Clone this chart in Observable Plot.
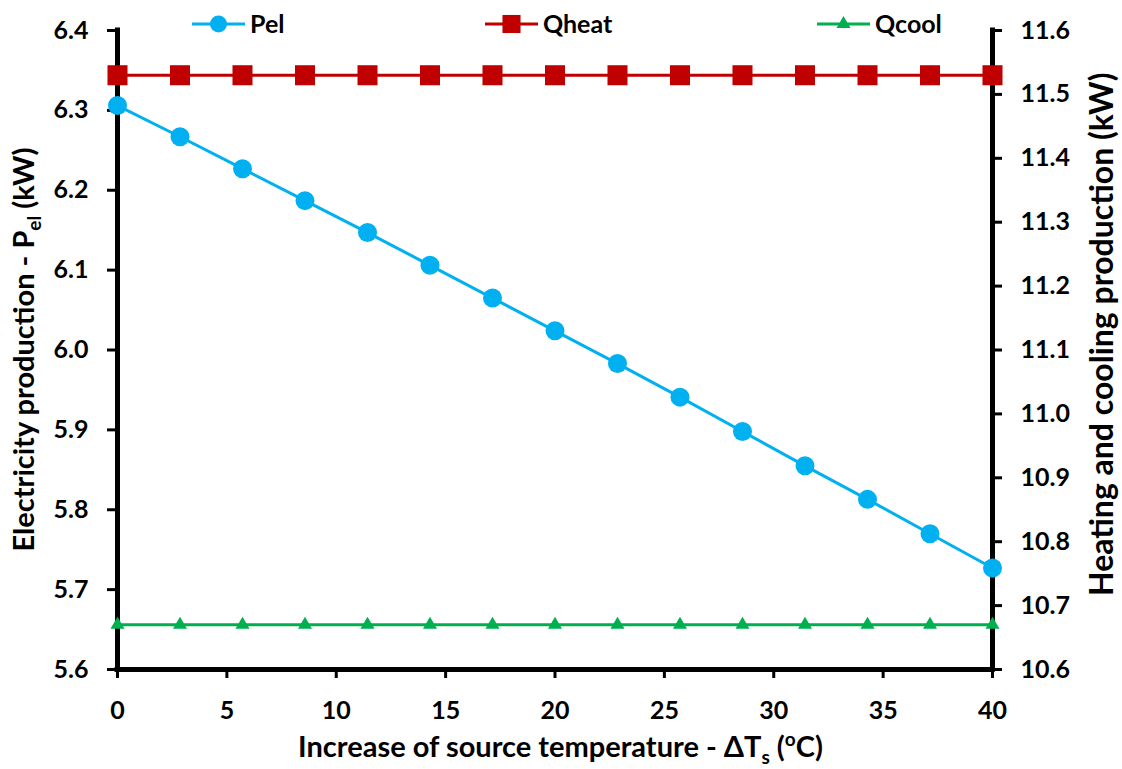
<!DOCTYPE html>
<html><head><meta charset="utf-8">
<script src="https://cdn.jsdelivr.net/npm/d3@7"></script>
<script src="https://cdn.jsdelivr.net/npm/@observablehq/plot@0.6"></script>
<style>
body{margin:0;background:#fff;}
#chart svg{font-family:Lato,sans-serif;font-weight:bold;}
</style></head><body><div id="chart"></div>
<script>
// ---- data ----
const deltaT = [0, 2.857, 5.714, 8.571, 11.429, 14.286, 17.143, 20, 22.857, 25.714, 28.571, 31.429, 34.286, 37.143, 40];
const pel    = [6.306, 6.267, 6.227, 6.187, 6.147, 6.106, 6.065, 6.024, 5.983, 5.941, 5.898, 5.855, 5.813, 5.770, 5.727];
const qheat  = [11.53, 11.53, 11.53, 11.53, 11.53, 11.53, 11.53, 11.53, 11.53, 11.53, 11.53, 11.53, 11.53, 11.53, 11.53];
const qcool  = [10.67, 10.67, 10.67, 10.67, 10.67, 10.67, 10.67, 10.67, 10.67, 10.67, 10.67, 10.67, 10.67, 10.67, 10.67];
const xTicks = [0, 5, 10, 15, 20, 25, 30, 35, 40];
const leftTicks = [5.6, 5.7, 5.8, 5.9, 6.0, 6.1, 6.2, 6.3, 6.4];
const rightTicks = [10.6, 10.7, 10.8, 10.9, 11.0, 11.1, 11.2, 11.3, 11.4, 11.5, 11.6];
const seriesNames = ["Pel", "Qheat", "Qcool"];
const seriesColors = ["#00B0F0", "#C00000", "#00B050"];

// ---- layout ----
const W = 1122, H = 769, mL = 117, mR = 130, mT = 30, mB = 100;
const leftDomain = [leftTicks[0], leftTicks[leftTicks.length - 1]];
const rightDomain = [rightTicks[0], rightTicks[rightTicks.length - 1]];
const k = (leftDomain[1] - leftDomain[0]) / (rightDomain[1] - rightDomain[0]);
const toLeft = v => leftDomain[0] + (v - rightDomain[0]) * k;
const fromLeft = v => rightDomain[0] + (v - leftDomain[0]) / k;

const rows = deltaT.map((x, i) => ({x, pel: pel[i], qheat: toLeft(qheat[i]), qcool: toLeft(qcool[i])}));

const plot = Plot.plot({
  width: W, height: H,
  marginLeft: mL, marginRight: mR, marginTop: mT, marginBottom: mB,
  style: {fontFamily: "Lato, sans-serif", fontWeight: "bold", fontSize: "25px", color: "#000", background: "#fff", overflow: "visible"},
  x: {domain: [xTicks[0], xTicks[xTicks.length - 1]]},
  y: {domain: leftDomain},
  marks: [
    Plot.ruleX([xTicks[0], xTicks[xTicks.length - 1]], {stroke: "#000", strokeWidth: 5, strokeLinecap: "square"}),
    Plot.ruleY([leftDomain[0]], {stroke: "#000", strokeWidth: 5, strokeLinecap: "square"}),
    Plot.axisX(xTicks, {anchor: "bottom", tickSize: 9, tickPadding: 23, strokeWidth: 3, label: null, tickFormat: d => String(d), fontSize: 25}),
    Plot.axisY(leftTicks, {anchor: "left", tickSize: 10, tickPadding: 19, strokeWidth: 3, label: null, tickFormat: d3.format(".1f"), fontSize: 25}),
    Plot.axisY(rightTicks.map(toLeft), {anchor: "right", tickSize: 9, tickPadding: 19, strokeWidth: 3, label: null, tickFormat: v => fromLeft(v).toFixed(1), fontSize: 25}),
    Plot.line(rows, {x: "x", y: "pel", stroke: seriesColors[0], strokeWidth: 3}),
    Plot.dot(rows, {x: "x", y: "pel", r: 9.5, fill: seriesColors[0], symbol: "circle"}),
    Plot.line(rows, {x: "x", y: "qheat", stroke: seriesColors[1], strokeWidth: 3}),
    Plot.dot(rows, {x: "x", y: "qheat", r: 11.3, fill: seriesColors[1], symbol: "square"}),
    Plot.line(rows, {x: "x", y: "qcool", stroke: seriesColors[2], strokeWidth: 3}),
    Plot.dot(rows, {x: "x", y: "qcool", r: 5.2, fill: seriesColors[2], symbol: "triangle"})
  ]
});
document.getElementById("chart").appendChild(plot);

const svg = d3.select(plot);
const cx = (mL + W - mR) / 2, cy = (mT + H - mB) / 2;
const titleSize = 29, subSize = 19;

// x title
const xt = svg.append("text").attr("x", cx + 6).attr("y", 757).attr("text-anchor", "middle")
  .attr("font-size", titleSize).attr("font-weight", "bold").attr("fill", "#000");
xt.append("tspan").text("Increase of source temperature - ΔT");
xt.append("tspan").attr("font-size", subSize).attr("dy", 7).text("s");
xt.append("tspan").attr("dy", -7).text(" (");
xt.append("tspan").attr("font-size", subSize).attr("dy", -11).text("o");
xt.append("tspan").attr("dy", 11).text("C)");

// left title
const lt = svg.append("text").attr("transform", `translate(34,${cy}) rotate(-90)`).attr("text-anchor", "middle")
  .attr("font-size", titleSize).attr("font-weight", "bold").attr("fill", "#000");
lt.append("tspan").text("Electricity production - P");
lt.append("tspan").attr("font-size", subSize).attr("dy", 7).text("el");
lt.append("tspan").attr("dy", -7).text(" (kW)");

// right title
svg.append("text").attr("transform", `translate(1113,596) rotate(-90)`).attr("text-anchor", "start")
  .attr("font-size", 32).attr("font-weight", "bold").attr("fill", "#000")
  .text("Heating and cooling production (kW)");

// legend
const legendX = [192, 485, 817];
const legendSymbols = [[d3.symbolCircle, 8.5], [d3.symbolSquare, 10.2], [d3.symbolTriangle, 5.2]];
seriesNames.forEach((name, i) => {
  const g = svg.append("g").attr("transform", `translate(${legendX[i]},24)`);
  g.append("line").attr("x1", 0).attr("x2", 53).attr("stroke", seriesColors[i]).attr("stroke-width", 3);
  g.append("path").attr("transform", "translate(26.5,0)")
    .attr("d", d3.symbol().type(legendSymbols[i][0]).size(Math.PI * legendSymbols[i][1] ** 2)())
    .attr("fill", seriesColors[i]);
  g.append("text").attr("x", 58).attr("y", 9).attr("text-anchor", "start")
    .attr("font-size", 25).attr("font-weight", "bold").attr("fill", "#000").text(name);
});
</script>
</body></html>
